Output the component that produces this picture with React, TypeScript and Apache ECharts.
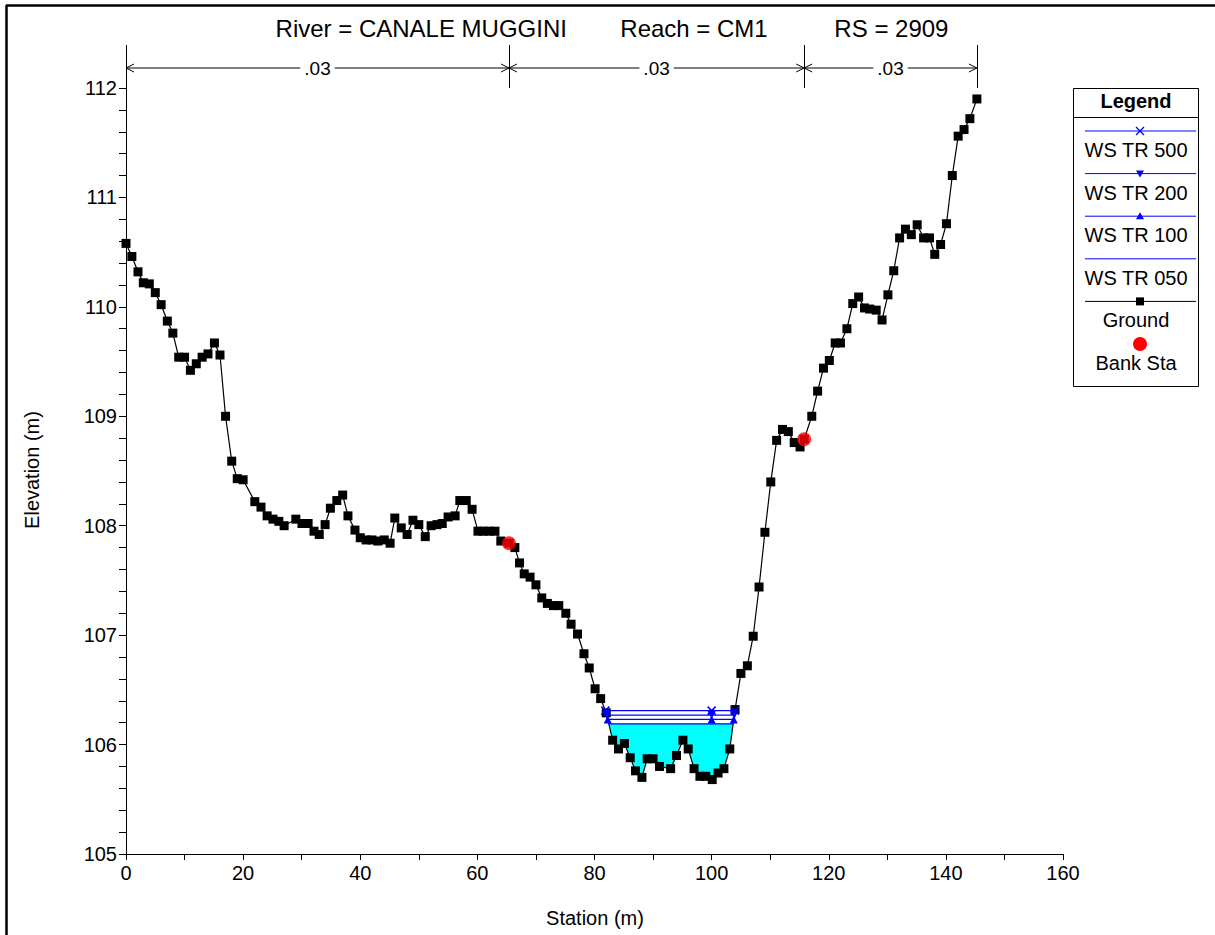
import React, { useEffect, useRef } from "react";
import * as echarts from "echarts";

// ---------- data ----------
const groundStation = [
  0, 1, 2.05, 2.96, 3.98, 5, 6, 7.06, 8, 9, 10, 11, 12, 13, 14, 15.1, 16.05, 17, 18.05, 19, 20,
  22, 23.05, 24.1, 25.1, 26.1, 27, 29, 30.05, 31.1, 32.1, 33, 34, 34.9, 36, 37, 37.9, 39.1, 40,
  41, 42, 43, 44.1, 45.1, 45.9, 47, 48, 49, 50, 51.1, 52.1, 53.1, 54, 55, 56.2, 57, 58.1, 59.1,
  60.1, 61, 62, 63, 64, 65.4, 66.4, 67.2, 68, 69, 70, 71, 71.95, 73, 73.9, 75.1, 76, 77.1, 78.2,
  79.1, 80.1, 81.05, 82, 83.1, 84.1, 85.1, 86.1, 87, 88.1, 89, 90, 91.1, 93, 94, 95.1, 96, 97, 98,
  99, 100.1, 101.1, 102.1, 103.1, 104, 105, 106.1, 107.1, 108.1, 109.1, 110.1, 111.1, 112.1,
  113.1, 114.1, 115.1, 115.8, 117.1, 118.1, 119.1, 120.1, 121.1, 122, 123.1, 124.1, 125.1, 126.1,
  127, 128.1, 129.1, 130.1, 131.1, 132.1, 133.1, 134.1, 135.1, 136.2, 137.2, 138.1, 139.1, 140.1,
  141.1, 142.1, 143.1, 144.1, 145.3,
];
const groundElev = [
  110.58, 110.46, 110.32, 110.22, 110.21, 110.13, 110.02, 109.87, 109.76, 109.54, 109.54, 109.42,
  109.48, 109.54, 109.57, 109.67, 109.56, 109.0, 108.59, 108.43, 108.42,
  108.22, 108.17, 108.09, 108.06, 108.04, 108.0, 108.06, 108.02, 108.02, 107.95, 107.92, 108.01,
  108.16, 108.23, 108.28, 108.09, 107.96, 107.89,
  107.87, 107.87, 107.86, 107.87, 107.84, 108.07, 107.98, 107.92, 108.05, 108.01, 107.9, 108.0,
  108.01, 108.02, 108.08, 108.09, 108.23, 108.23, 108.15,
  107.95, 107.95, 107.95, 107.95, 107.86, 107.84, 107.8, 107.66, 107.56, 107.53, 107.46, 107.34,
  107.29, 107.27, 107.27, 107.2, 107.1, 107.01, 106.83,
  106.7, 106.51, 106.42, 106.29, 106.04, 105.96, 106.01, 105.88, 105.76, 105.7, 105.87, 105.87,
  105.8, 105.78, 105.9, 106.04, 105.96, 105.78, 105.71,
  105.71, 105.68, 105.74, 105.78, 105.96, 106.32, 106.65, 106.72, 106.99, 107.44, 107.94, 108.4,
  108.78, 108.88,
  108.86, 108.76, 108.72, 108.79, 109.0, 109.23, 109.44, 109.51, 109.67, 109.67, 109.8, 110.03,
  110.09, 109.99,
  109.98, 109.97, 109.88, 110.11, 110.33, 110.63, 110.71, 110.66, 110.75, 110.63, 110.63, 110.48,
  110.57, 110.76,
  111.2, 111.56, 111.62, 111.72, 111.9,
];
const bankStation = [65.4, 115.8];
const bankElev = [107.84, 108.79];

const wsNames = ["WS TR 500", "WS TR 200", "WS TR 100", "WS TR 050"];
const wsLevels = [106.31, 106.27, 106.23, 106.19];
const wsMarkerStation = 100;

const nBreaks = [0, 65.4, 115.8, 145.3];
const nValues = [".03", ".03", ".03"];

const xMin = 0, xMax = 160, xStep = 20;
const yMin = 105, yMax = 112, yStep = 1;

const titleText = "River = CANALE MUGGINI        Reach = CM1          RS = 2909";
const xName = "Station (m)";
const yName = "Elevation (m)";

// ---------- helpers ----------
function interpStation(a: number, b: number, level: number) {
  const x1 = groundStation[a], y1 = groundElev[a], x2 = groundStation[b], y2 = groundElev[b];
  return x1 + ((level - y1) * (x2 - x1)) / (y2 - y1);
}
function wsExtent(level: number) {
  let iMin = 0;
  groundElev.forEach((e, i) => { if (e < groundElev[iMin]) iMin = i; });
  let i = iMin;
  while (i > 0 && groundElev[i - 1] < level) i--;
  const l = i > 0 ? interpStation(i - 1, i, level) : groundStation[0];
  let j = iMin;
  const n = groundElev.length;
  while (j < n - 1 && groundElev[j + 1] < level) j++;
  const r = j < n - 1 ? interpStation(j, j + 1, level) : groundStation[n - 1];
  return { l, r, i, j };
}

const FONT = "'Liberation Sans', Arial, sans-serif";
const BLUE = "#0000ff";
const xSym = "path://M0,0L10,10M10,0L0,10";

export default function App() {
  const ref = useRef<HTMLDivElement>(null);
  useEffect(() => {
    if (!ref.current) return;
    const chart = echarts.init(ref.current, undefined, { renderer: "svg" });

    const fillLevel = wsLevels[wsLevels.length - 1];
    const fe = wsExtent(fillLevel);
    const fillPts: number[][] = [[fe.l, fillLevel]];
    for (let k = fe.i; k <= fe.j; k++) fillPts.push([groundStation[k], groundElev[k]]);
    fillPts.push([fe.r, fillLevel]);

    const wsSymbols = [
      { symbol: xSym, rotate: 0, size: 8, stroke: true },
      { symbol: "triangle", rotate: 180, size: 8, stroke: false },
      { symbol: "triangle", rotate: 0, size: 8, stroke: false },
      { symbol: "none", rotate: 0, size: 0, stroke: false },
    ];

    const wsSeries = wsLevels.map((lvl, k) => {
      const ex = wsExtent(lvl);
      const s = wsSymbols[k];
      return {
        type: "line",
        name: wsNames[k],
        data: [[ex.l, lvl], [wsMarkerStation, lvl], [ex.r, lvl]],
        symbol: s.symbol,
        symbolRotate: s.rotate,
        symbolSize: s.size,
        showAllSymbol: true,
        lineStyle: { color: BLUE, width: 1.2 },
        itemStyle: s.stroke
          ? { color: BLUE, borderColor: BLUE, borderWidth: 1.5 }
          : { color: BLUE },
        z: 4,
        silent: true,
      };
    });

    const option: any = {
      animation: false,
      backgroundColor: "#ffffff",
      grid: { left: 126, right: 152, top: 88, bottom: 81, containLabel: false },
      xAxis: {
        type: "value",
        min: xMin,
        max: xMax,
        interval: xStep,
        axisLine: { lineStyle: { color: "#000", width: 1 } },
        axisTick: { show: true, length: 6, lineStyle: { color: "#000" } },
        minorTick: { show: true, splitNumber: 2, length: 6, lineStyle: { color: "#000" } },
        splitLine: { show: false },
        axisLabel: { color: "#000", fontSize: 20, fontFamily: FONT, margin: 9 },
      },
      yAxis: {
        type: "value",
        min: yMin,
        max: yMax,
        interval: yStep,
        axisLine: { show: true, lineStyle: { color: "#000", width: 1 } },
        axisTick: { show: true, length: 7, lineStyle: { color: "#000" } },
        minorTick: { show: true, splitNumber: 5, length: 7, lineStyle: { color: "#000" } },
        splitLine: { show: false },
        axisLabel: { color: "#000", fontSize: 20, fontFamily: FONT, margin: 9 },
      },
      series: [
        {
          type: "custom",
          silent: true,
          z: 1,
          data: [[0, 0]],
          renderItem: (_p: any, api: any) => ({
            type: "polygon",
            shape: { points: fillPts.map((p) => api.coord(p)) },
            style: { fill: "#00ffff", stroke: "none" },
          }),
        },
        {
          type: "line",
          name: "Ground",
          data: groundStation.map((s, i) => [s, groundElev[i]]),
          symbol: "rect",
          symbolSize: 9,
          showAllSymbol: true,
          lineStyle: { color: "#000", width: 1.2 },
          itemStyle: { color: "#000" },
          z: 3,
          silent: true,
        },
        ...wsSeries,
        {
          type: "scatter",
          name: "Bank Sta",
          data: bankStation.map((s, i) => [s, bankElev[i]]),
          symbol: "circle",
          symbolSize: 14,
          itemStyle: { color: "#ff0000" },
          z: 5,
          silent: true,
        },
      ],
    };
    chart.setOption(option);

    const px = (s: number) => chart.convertToPixel({ xAxisIndex: 0 } as any, s) as number;
    const topY = chart.convertToPixel({ yAxisIndex: 0 } as any, yMax) as number;
    const g: any[] = [];

    // frame
    g.push({ type: "line", shape: { x1: 6, y1: 5.5, x2: 1215, y2: 5.5 }, style: { stroke: "#000", lineWidth: 2.5 } });
    g.push({ type: "line", shape: { x1: 6.5, y1: 5, x2: 6.5, y2: 935 }, style: { stroke: "#000", lineWidth: 2.5 } });

    // title
    g.push({
      type: "text", x: 612, y: 28,
      style: { text: titleText, fill: "#000", font: `24px ${FONT}`, textAlign: "center", textVerticalAlign: "middle" },
    });
    // axis names
    g.push({
      type: "text", x: 595, y: 918,
      style: { text: xName, fill: "#000", font: `20px ${FONT}`, textAlign: "center", textVerticalAlign: "middle" },
    });
    g.push({
      type: "text", x: 32, y: 470, rotation: Math.PI / 2,
      style: { text: yName, fill: "#000", font: `20px ${FONT}`, textAlign: "center", textVerticalAlign: "middle" },
    });

    // n-value bars
    const arrowY = 68, lineTop = 45;
    nBreaks.forEach((s) => {
      const x = Math.round(px(s)) + 0.5;
      g.push({ type: "line", shape: { x1: x, y1: lineTop, x2: x, y2: topY }, style: { stroke: "#000", lineWidth: 1 } });
    });
    nValues.forEach((v, k) => {
      const xa = px(nBreaks[k]), xb = px(nBreaks[k + 1]);
      const mid = (xa + xb) / 2;
      g.push({ type: "line", shape: { x1: xa, y1: arrowY, x2: xb, y2: arrowY }, style: { stroke: "#000", lineWidth: 1 } });
      g.push({ type: "polyline", shape: { points: [[xa + 8, arrowY - 4], [xa, arrowY], [xa + 8, arrowY + 4]] }, style: { stroke: "#000", fill: "none", lineWidth: 1 } });
      g.push({ type: "polyline", shape: { points: [[xb - 8, arrowY - 4], [xb, arrowY], [xb - 8, arrowY + 4]] }, style: { stroke: "#000", fill: "none", lineWidth: 1 } });
      g.push({
        type: "text", x: mid, y: arrowY,
        style: {
          text: v, fill: "#000", font: `19px ${FONT}`, textAlign: "center", textVerticalAlign: "middle",
          backgroundColor: "#fff", padding: [0, 4],
        },
      });
    });

    // legend
    const LX = 1073.5, LY = 88.5, LW = 125, LH = 298;
    const lx0 = 1085, lx1 = 1196, lcx = 1140;
    g.push({ type: "rect", shape: { x: LX, y: LY, width: LW, height: LH }, style: { fill: "#fff", stroke: "#000", lineWidth: 1 }, z: 10 });
    g.push({ type: "line", shape: { x1: LX, y1: 117.5, x2: LX + LW, y2: 117.5 }, style: { stroke: "#000", lineWidth: 1 }, z: 11 });
    g.push({
      type: "text", x: LX + LW / 2, y: 101, z: 11,
      style: { text: "Legend", fill: "#000", font: `bold 20px ${FONT}`, textAlign: "center", textVerticalAlign: "middle" },
    });
    const labels = [...wsNames, "Ground", "Bank Sta"];
    labels.forEach((lab, k) => {
      const ly = 131 + k * 42.6;
      const ty = ly + 19;
      if (k < 4) {
        g.push({ type: "line", z: 11, shape: { x1: lx0, y1: ly, x2: lx1, y2: ly }, style: { stroke: BLUE, lineWidth: 1 } });
        if (k === 0) {
          g.push({ type: "line", z: 12, shape: { x1: lcx - 4, y1: ly - 4, x2: lcx + 4, y2: ly + 4 }, style: { stroke: BLUE, lineWidth: 1.3 } });
          g.push({ type: "line", z: 12, shape: { x1: lcx - 4, y1: ly + 4, x2: lcx + 4, y2: ly - 4 }, style: { stroke: BLUE, lineWidth: 1.3 } });
        } else if (k === 1) {
          g.push({ type: "polygon", z: 12, shape: { points: [[lcx - 4, ly - 3], [lcx + 4, ly - 3], [lcx, ly + 4]] }, style: { fill: BLUE } });
        } else if (k === 2) {
          g.push({ type: "polygon", z: 12, shape: { points: [[lcx - 4, ly + 3], [lcx + 4, ly + 3], [lcx, ly - 4]] }, style: { fill: BLUE } });
        }
      } else if (k === 4) {
        g.push({ type: "line", z: 11, shape: { x1: lx0, y1: ly, x2: lx1, y2: ly }, style: { stroke: "#000", lineWidth: 1 } });
        g.push({ type: "rect", z: 12, shape: { x: lcx - 4, y: ly - 4, width: 8, height: 8 }, style: { fill: "#000" } });
      } else {
        g.push({ type: "circle", z: 12, shape: { cx: lcx, cy: ly, r: 7 }, style: { fill: "#ff0000" } });
      }
      g.push({
        type: "text", x: LX + LW / 2, y: ty, z: 12,
        style: { text: lab, fill: "#000", font: `20px ${FONT}`, textAlign: "center", textVerticalAlign: "middle" },
      });
    });

    chart.setOption({ graphic: g });
    return () => chart.dispose();
  }, []);

  return (
    <div
      ref={ref}
      style={{ position: "absolute", left: 0, top: 0, width: 1215, height: 935, background: "#fff" }}
    />
  );
}
